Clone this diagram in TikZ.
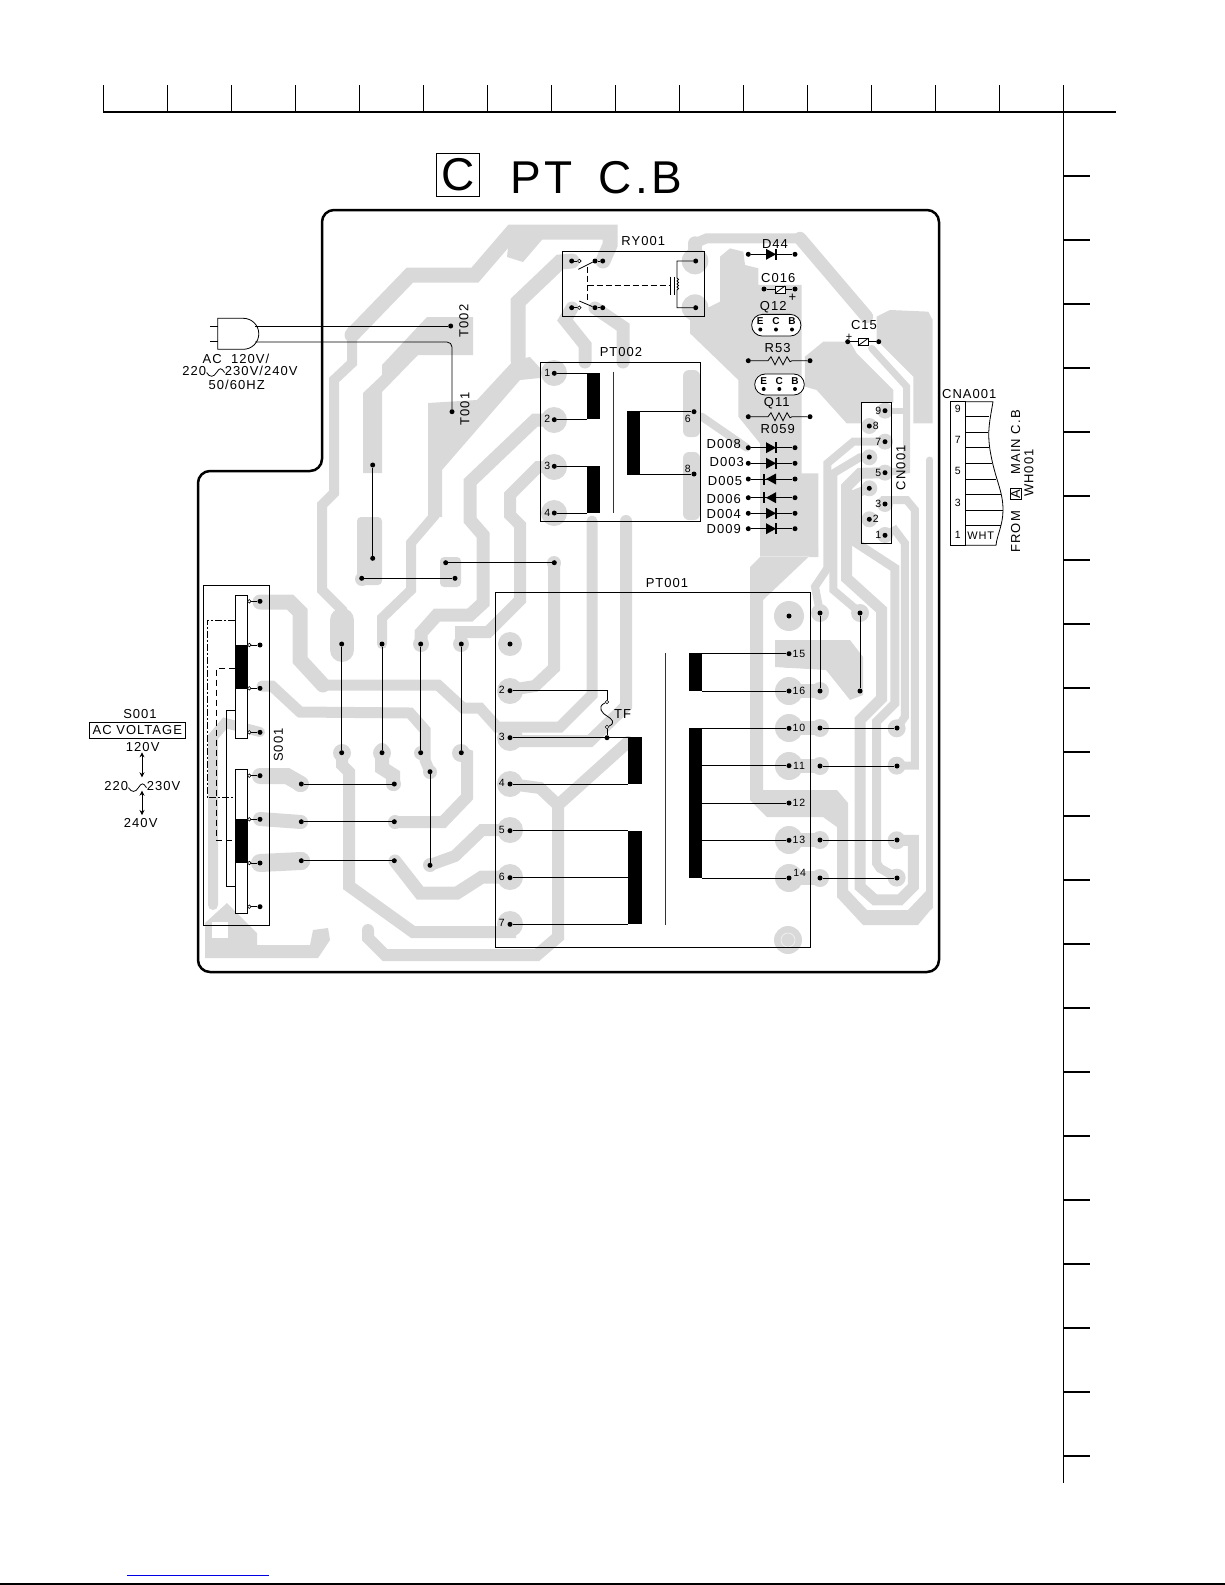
\documentclass[tikz,border=0pt]{standalone}
\usepackage{fontspec}
\setmainfont[LetterSpace=8]{Liberation Sans}
\usetikzlibrary{arrows.meta}
\definecolor{cu}{HTML}{D9D9D9}
\newcommand{\sinesign}{\tikz[x=1pt,y=1pt,baseline=0pt,line width=.8pt]\draw (0,3) .. controls (3,-2) and (7,-2) .. (10,3) .. controls (13,8) and (15,8) .. (18,3);}
\tikzset{
  trace/.style={draw=cu,line width=#1pt,line join=miter,line cap=round},
  foil/.style={fill=cu,draw=none},
  pad/.style={circle,fill=black,inner sep=0pt,minimum size=5pt},
  hole/.style={circle,draw=black,fill=white,line width=.6pt,inner sep=0pt,minimum size=3.6pt},
  lbl/.style={font=\fontsize{13}{13}\selectfont,inner sep=0pt},
  num/.style={font=\fontsize{10.5}{10.5}\selectfont,inner sep=0pt},
  wire/.style={line width=.8pt},
  part/.style={draw=black,line width=.8pt},
  coilblock/.style={fill=black}
}
\begin{document}
\begin{tikzpicture}[x=1pt,y=-1pt]
\useasboundingbox (0,0) rectangle (1225,1585);

% page scale
\draw[line width=2pt] (103,112) -- (1116,112);
\draw[line width=1pt] (1063,85) -- (1063,1483);
\foreach \k in {0,...,15} \draw[line width=1pt] (103.5+64*\k,85) -- (103.5+64*\k,112);
\foreach \k in {0,...,20} \draw[line width=1.6pt] (1063,176+64*\k) -- (1090,176+64*\k);
\draw[line width=1pt,blue!90!black] (127,1575) -- (269,1575);
\draw[line width=1.4pt] (0,1584) -- (1225,1584);

% copper, left part
\fill[foil] (363,473) -- (382,473) -- (382,392) -- (418,355) -- (473,355) -- (473,317) -- (427,317) -- (382,365) -- (382,375) -- (363,393) -- cycle;
\fill[foil,rounded corners=4pt] (357,517) rectangle (382,585);
\fill[foil,rounded corners=4pt] (440,557) rectangle (461,587);
\fill[foil] (428,403) -- (477,400) -- (514,360) -- (530,357) -- (540,368) -- (540,378) -- (520,380) -- (442,470) -- (442,517) -- (428,517) -- cycle;
\path[trace=10] (435,515) -- (411,543) -- (411,590) -- (382,618) -- (382,644);
\path[trace=15] (572,261) -- (560,262) -- (518,302) -- (518,360);
\path[trace=10] (342,644) -- (342,610) -- (322,590) -- (322,505) -- (334,493) -- (334,380) -- (352,363) -- (352,330);
\path[trace=15] (352,335) -- (410,275) -- (475,275) -- (512,232) -- (610,232) -- (610,245) -- (603,261);
\fill[foil] (507,257) -- (523,262) -- (547,234) -- (510,227) -- cycle;
\path[trace=24] (342,620) -- (342,650);
\path[trace=13] (554,420) -- (535,420) -- (470,482) -- (470,520) -- (483,535) -- (483,603) -- (470,615) -- (437,615) -- (421,633) -- (421,644);
\path[trace=12] (554,467) -- (538,467) -- (510,495) -- (510,515) -- (520,525) -- (520,600) -- (488,632) -- (461,632) -- (461,644);
\path[trace=12] (554,563) -- (554,668) -- (535,686) -- (510,690);
\path[trace=15] (260,602) -- (290,602) -- (300,612) -- (300,660) -- (323,685);
\path[trace=11] (323,685) -- (438,685) -- (463,708) -- (480,708) -- (497,727) -- (560,727) -- (592,695) -- (592,521);
\path[trace=12] (510,741) -- (590,741) -- (626,706) -- (626,521);
\path[trace=11] (262,686) -- (272,686) -- (300,712) -- (410,713) -- (425,730) -- (425,760) -- (430,772);
\path[trace=12] (342,753) -- (342,765) -- (349,772) -- (349,886) -- (413,932) -- (510,932) -- (510,924);
\path[trace=14] (382,750) -- (382,768) -- (393,775) -- (393,784);
\path[trace=16] (260,776) -- (287,776) -- (301,784);
\path[trace=14] (260,819) -- (301,822);
\path[trace=18] (260,863) -- (301,861);
\path[trace=12] (395,822) -- (443,822) -- (467,797) -- (467,755) -- (461,753);
\path[trace=12] (430,865) -- (455,856) -- (482,830) -- (510,830);
\path[trace=13] (395,861) -- (420,893) -- (457,893) -- (482,877) -- (510,877);
\path[trace=12] (510,784) -- (540,788) -- (558,805) -- (558,937) -- (537,955) -- (385,955) -- (368,938) -- (368,930);
\path[trace=12] (558,805) -- (628,742);
\path[trace=10] (260,732) -- (225,723) -- (213,737) -- (213,905);
\fill[foil] (205,923) -- (227,903) -- (257,933) -- (257,945) -- (310,945) -- (313,930) -- (328,928) -- (330,940) -- (318,958) -- (205,958) -- cycle;
\fill[white] (212,922) rectangle (228,938);
\path[trace=13] (572,308) -- (565,320) -- (585,345) -- (585,362);
\path[trace=13] (595,308) -- (623,327) -- (623,362);
\foreach \x/\y/\r in {554/373/13,554/420/13,554/467/13,554/513/13,510/644/12,510/691/13,510/738/13,510/784/13,510/830/13,510/877/13,510/924/13,342/753/9,382/753/9,421/644/8,461/644/8,421/753/7,461/753/9,300/784/8,301/861/9,394/784/7,395/822/7,395/861/6,430/772/7,430/865/7,362/579/7,554/563/7,788/940/14,789/616/15}
  \fill[foil] (\x,\y) circle (\r pt);
\draw[cu!30!white,line width=.6pt] (788,940) circle (7pt);

% copper, right part
\begin{scope}[shift={(680,210)},scale=.3333]
  \fill[foil] (120,140) -- (150,115) -- (190,125) -- (195,165) -- (235,175) -- (235,225) -- (365,225) -- (365,790) -- (415,790) -- (415,1040) -- (240,1040) -- (240,700) -- (175,620) -- (175,510) -- (30,370) -- (30,320) -- (120,275) -- cycle;
  \path[trace=14] (45,153) -- (45,100);
  \path[trace=10] (45,100) -- (80,85) -- (360,85);
  \path[trace=13] (360,85) -- (560,320);
  \fill[foil] (45,153) circle (40);
  \fill[foil] (45,293) circle (40);
  \path[trace=8] (65,620) -- (200,713);
  \fill[foil] (375,440) -- (430,395) -- (510,395) -- (530,430) -- (640,540) -- (640,578) -- (545,578) -- (545,640) -- (500,640) -- (410,540) -- (375,530) -- cycle;
  \fill[foil] (590,320) -- (630,300) -- (745,305) -- (758,330) -- (758,640) -- (700,640) -- (700,500) -- (600,400) -- (590,390) -- cycle;
  \path[trace=7] (575,415) -- (680,530) -- (680,780) -- (615,788);
  \path[trace=6] (615,602) -- (675,602);
  \foreach \x/\y in {615/602,615/695,568/648,615/788,568/742,568/835,615/882,568/928,615/975}
    \fill[foil] (\x,\y) circle (24);
\end{scope}
\begin{scope}[shift={(780,480)},scale=.3333]
  \path[trace=7] (450,-60) -- (450,1280);
  \path[trace=8] (120,398) -- (105,320) -- (142,265) -- (142,-50) -- (220,-115) -- (315,-115);
  \path[trace=8] (240,398) -- (160,330) -- (160,-20) -- (240,-68) -- (268,-68);
  \path[trace=11] (350,1081) -- (400,1081) -- (400,1220) -- (360,1260) -- (285,1260) -- (240,1220) -- (240,720) -- (305,655) -- (305,390) -- (200,295) -- (200,20) -- (240,-20) -- (315,-22);
  \path[trace=9] (350,1193) -- (300,1165) -- (290,1150) -- (290,725) -- (345,670) -- (345,265) -- (230,190) -- (230,40) -- (268,25);
  \path[trace=8] (350,745) -- (375,710) -- (375,190) -- (345,150) -- (315,165);
  \path[trace=8] (350,857) -- (405,857) -- (405,90) -- (380,60) -- (315,60) -- (315,72);
  \foreach \y in {745,857,1081,1193} \fill[foil] (350,\y) circle (27);
\end{scope}
\fill[foil] (750,567) -- (760,557) -- (818,557) -- (818,548) -- (763,600) -- (763,790) -- (837,790) -- (848,803) -- (848,890) -- (867,910) -- (908,910) -- (927,890) -- (933,907) -- (918,925) -- (863,925) -- (837,897) -- (837,827) -- (823,817) -- (767,817) -- (750,800) -- cycle;
\fill[foil] (775,640) -- (850,640) -- (863,657) -- (863,695) -- (850,700) -- (826,670) -- (775,667) -- cycle;
\foreach \y in {654,691,728,766,840,878} {
  \fill[foil] (789,\y) circle (14pt);
}
\foreach \y in {691,728,766,840,878} {
  \fill[foil] (820,\y) circle (9pt);
  \path[trace=14] (789,\y) -- (820,\y);
}
\fill[foil] (820,613) circle (9pt);
\fill[foil] (860,613) circle (9pt);

% board edge
\draw[line width=2.5pt,rounded corners=12pt] (322,210) -- (939,210) -- (939,972) -- (198,972) -- (198,471) -- (322,471) -- cycle;

% title
\node[draw,line width=.8pt,minimum width=43pt,minimum height=43pt,inner sep=0pt,font=\fontsize{46}{46}\selectfont] (titlec) at (458,175) {C};
\node[font=\fontsize{46}{46}\selectfont,inner sep=0pt,anchor=west] (titlept) at (510,178) {PT};
\node[font=\fontsize{46}{46}\selectfont,inner sep=0pt,anchor=west] (titlecb) at (598,178) {C.B};

% plug
\draw[part] (217.7,318.3) -- (243.3,318.3) arc (-90:90:15.5) -- (217.7,349.3) -- cycle;
\coordinate (pluga) at (255,326);
\coordinate (plugb) at (255,342);
\draw[part] (210,326) -- (217.7,326);
\draw[part] (210,341.7) -- (217.7,341.7);
\node[pad] (t002) at (450.7,326) {};
\node[pad] (t001) at (452,411.7) {};
\draw[wire] (pluga) -- (t002);
\draw[wire,rounded corners=5pt] (plugb) -- (452,342) -- (t001);
\node[lbl,rotate=90] (t002lbl) at (464,321) {T002};
\node[lbl,rotate=90] (t001lbl) at (465,409) {T001};
\node[lbl] (acline) at (236,358.5) {AC\ \ 120V/};
\node[lbl] (acvolts) at (240,372) {220\sinesign 230V/240V};
\node[lbl] (achz) at (236.7,385) {50/60HZ};

% jumpers
\foreach \n/\x in {1/341.7,2/382,3/420.7,4/461.3} {
  \node[pad] (ja\n) at (\x,644) {};
  \node[pad] (jb\n) at (\x,752.7) {};
  \draw[wire] (ja\n) -- (jb\n);
}
\foreach \n/\y in {1/784,2/821.7,3/860.7} {
  \node[pad] (jc\n) at (301.3,\y) {};
  \node[pad] (jd\n) at (394.3,\y) {};
  \draw[wire] (jc\n) -- (jd\n);
}
\node[pad] (je) at (430,771.7) {};
\node[pad] (jf) at (430,865.3) {};
\draw[wire] (je) -- (jf);
\node[pad] (jg) at (361.7,578.3) {};
\node[pad] (jh) at (455,578.3) {};
\draw[wire] (jg) -- (jh);
\node[pad] (ji) at (445.7,562.7) {};
\node[pad] (jj) at (554.3,562.7) {};
\draw[wire] (ji) -- (jj);
\node[pad] (jk) at (372.7,465) {};
\node[pad] (jl) at (372.7,558.3) {};
\draw[wire] (jk) -- (jl);

% S001
\draw[part] (203.7,585.7) rectangle (269.3,925.7);
\node[lbl,rotate=90] (s001lbl) at (278.3,745) {S001};
\draw[part,fill=white] (235.3,595) rectangle (247.7,738.3);
\draw[part,fill=white] (235.3,769.3) rectangle (247.7,913);
\fill (235.3,644.7) rectangle (247.7,688.7);
\fill (235.3,819) rectangle (247.7,863.3);
\foreach \n/\y in {1/601.3,2/645,3/688.3,4/732.3,5/775.7,6/819.3,7/863,8/906.7} {
  \node[hole] (sh\n) at (249.3,\y) {};
  \node[pad] (sp\n) at (260,\y) {};
  \draw[wire] (sh\n) -- (sp\n);
}
\draw[wire,dash pattern=on 7pt off 2pt on 2pt off 2pt] (235.3,620) -- (207,620) -- (207,797.3) -- (235.3,797.3);
\draw[wire,dash pattern=on 6pt off 4pt] (235.3,668.3) -- (216.7,668.3) -- (216.7,840) -- (235.3,840);
\draw[wire] (235.3,710.7) -- (226,710.7) -- (226,886.7) -- (235.3,886.7);

% voltage selector text
\node[lbl] (s001name) at (140,714) {S001};
\node[lbl,draw,line width=.8pt,minimum width=96.7pt,minimum height=15.6pt] (acbox) at (137.3,730.5) {AC VOLTAGE};
\node[lbl] (v120) at (142.7,746.7) {120V};
\node[lbl] (v220) at (142.3,787.3) {220\sinesign 230V};
\node[lbl] (v240) at (140.7,822.7) {240V};
\coordinate (arra) at (142,752.3);
\coordinate (arrb) at (142,777.3);
\coordinate (arrc) at (142,790.7);
\coordinate (arrd) at (142,815);
\draw[wire,{Stealth[length=5pt,width=5pt]}-{Stealth[length=5pt,width=5pt]}] (arra) -- (arrb);
\draw[wire,{Stealth[length=5pt,width=5pt]}-{Stealth[length=5pt,width=5pt]}] (arrc) -- (arrd);

% PT001
\draw[part] (495.3,592) rectangle (810.7,947.7);
\node[lbl] (pt001lbl) at (667,583) {PT001};
\draw[line width=1pt,black!80] (665.7,653) -- (665.7,925);
\fill[coilblock] (628.3,737.3) rectangle (641.7,784.3);
\fill[coilblock] (628.3,831) rectangle (641.7,924.3);
\fill[coilblock] (688.7,653.3) rectangle (702,691);
\fill[coilblock] (688.7,728.3) rectangle (702,877.7);
\node[pad] (n1) at (510,644) {};
\node[pad] (n9) at (789,616) {};
\foreach \n/\y in {2/690.7,3/737.7,4/784,5/830.7,6/877.7,7/924.3} {
  \node[pad] (a\n) at (510,\y) {};
  \node[num] (a\n lbl) at (501.7,\y-1) {\n};
}
\foreach \n/\y in {3/737.7,4/784,5/830.7,6/877.7,7/924.3} \draw[wire] (a\n) -- (628.3,\y);
\foreach \n/\y in {15/653.7,16/691,10/728.3,11/765.7,12/803,13/840.3,14/878} {
  \node[pad] (b\n) at (789,\y) {};
  \draw[wire] (b\n) -- (702,\y);
}
\foreach \n/\y in {15/653.7,16/691,10/728.3,11/765.7,12/803,13/840.3} \node[num] (b\n lbl) at (799,\y) {\n};
\node[num] (b14lbl) at (799.7,873) {14};
\node[pad] (tfa) at (607,737.7) {};
\node[hole] (tfb) at (607,727) {};
\node[hole] (tfc) at (607,702) {};
\draw[wire] (tfa) -- (tfb);
\draw[wire] (a2) -- (607,690.7) -- (tfc);
\draw[wire] (tfc) .. controls (596,707) and (603,714) .. (607,716) .. controls (612,719) and (616,723) .. (tfb);
\node[lbl] (tflbl) at (622.7,714) {TF};
\foreach \n/\x/\y in {p/820/613,q/820/691,r/820/728,s/897/728,t/820/766,u/897/766,v/820/840,w/897/840,x/820/878,y/897/878,z/860/613,zz/860/691}
  \node[pad] (c\n) at (\x,\y) {};
\draw[wire] (cp) -- (cq);
\draw[wire] (cr) -- (cs);
\draw[wire] (ct) -- (cu);
\draw[wire] (cv) -- (cw);
\draw[wire] (cx) -- (cy);
\draw[wire] (cz) -- (czz);

% PT002
\fill[foil,rounded corners=6pt] (683,370) -- (700,370) -- (700,437) -- (683,437) -- cycle;
\fill[foil,rounded corners=6pt] (683,452) -- (700,452) -- (700,520) -- (683,520) -- cycle;
\draw[part] (540,362.7) rectangle (700.3,521.7);
\node[lbl] (pt002lbl) at (621,351.7) {PT002};
\draw[line width=1pt,black!80] (613.3,371.7) -- (613.3,513.3);
\fill[coilblock] (586.7,373.3) rectangle (600,419);
\fill[coilblock] (586.7,465.7) rectangle (600,513.3);
\fill[coilblock] (627,411) rectangle (640.3,475.3);
\foreach \n/\y in {1/373.3,2/419.7,3/466.3,4/513} {
  \node[pad] (d\n) at (554.3,\y) {};
  \node[num] (d\n lbl) at (547.3,\y-.5) {\n};
  \draw[wire] (d\n) -- (586.7,\y);
}
\node[pad] (d6) at (694,411.7) {};
\node[pad] (d8) at (694,474) {};
\draw[wire] (d6) -- (640.3,411.7);
\draw[wire] (d8) -- (640.3,474);
\node[num] (d6lbl) at (687.7,418.5) {6};
\node[num] (d8lbl) at (687.7,468.5) {8};

% RY001
\draw[part] (562.7,251.7) rectangle (704.7,316.3);
\node[lbl] (ry001lbl) at (643.3,241) {RY001};
\foreach \n/\y in {a/261,b/307.7} {
  \node[pad] (r\n1) at (571.7,\y) {};
  \node[hole] (r\n2) at (579.3,\y) {};
  \node[pad] (r\n3) at (595,\y) {};
  \node[pad] (r\n4) at (602.7,\y) {};
  \node[pad] (r\n5) at (695.7,\y) {};
  \draw[wire] (r\n1) -- (r\n2);
  \draw[wire] (r\n3) -- (r\n4);
}
\draw[wire] (578.3,269.3) -- (ra3);
\draw[wire] (579.3,301) -- (rb3);
\draw[wire,dash pattern=on 6pt off 3pt] (587.7,266.7) -- (587.7,301.7);
\draw[wire,dash pattern=on 6pt off 3pt] (587.7,285) -- (670,285);
\draw[wire] (670.7,276.7) -- (670.7,295);
\draw[wire] (674.3,277) -- (674.3,295);
\draw[wire] (ra5) -- (677,261) -- (677,278) arc (-90:90:1.5) arc (-90:90:1.5) arc (-90:90:1.5) arc (-90:90:1.5) -- (677,307.7) -- (rb5);

% small parts
\foreach \n/\y/\s in {d44/254.3/1,d008/447.7/1,d003/463.3/1,d005/479/-1,d006/497.7/-1,d004/513.3/1,d009/528.7/1} {
  \node[pad] (\n a) at (748.3,\y) {};
  \node[pad] (\n b) at (795,\y) {};
  \draw[wire] (\n a) -- (\n b);
  \fill (771-5*\s,\y-5.5) -- (771+5*\s,\y) -- (771-5*\s,\y+5.5) -- cycle;
  \fill (771+5*\s-1,\y-5.5) rectangle (771+5*\s+2*\s-1,\y+5.5);
}
\node[lbl] (d44lbl) at (775,244) {D44};
\node[lbl] (d008lbl) at (723.7,443.7) {D008};
\node[lbl] (d003lbl) at (726.7,462.3) {D003};
\node[lbl] (d005lbl) at (725,480.7) {D005};
\node[lbl] (d006lbl) at (723.7,499.3) {D006};
\node[lbl] (d004lbl) at (723.7,513.7) {D004};
\node[lbl] (d009lbl) at (723.7,529) {D009};

\node[pad] (c16a) at (764,289) {};
\node[pad] (c16b) at (795,289) {};
\draw[wire] (c16a) -- (c16b);
\draw[part,fill=white] (775,286) rectangle (785,293.3);
\draw[wire] (775,293.3) -- (785,286);
\node[lbl] (c16lbl) at (778.3,278.5) {C016};
\node[lbl] (c16plus) at (792.3,298) {+};

\node[part,fill=white,minimum width=49.3pt,minimum height=21.7pt,rounded corners=10.8pt,inner sep=0pt] (q12) at (776.3,325.2) {};
\node[lbl] (q12lbl) at (773.3,306.7) {Q12};
\node[part,fill=white,minimum width=49.6pt,minimum height=21pt,rounded corners=10.5pt,inner sep=0pt] (q11) at (779.5,384.5) {};
\node[lbl] (q11lbl) at (776.7,403.3) {Q11};
\foreach \n/\x/\t in {e/760.3/E,c/776/C,b/792/B} {
  \node[num,font=\fontsize{10}{10}\bfseries\selectfont] (qa\n) at (\x,321.5) {\t};
  \node[pad,minimum size=4pt] (qb\n) at (\x,329.5) {};
}
\foreach \n/\x/\t in {e/763.7/E,c/779.3/C,b/795/B} {
  \node[num,font=\fontsize{10}{10}\bfseries\selectfont] (qc\n) at (\x,381) {\t};
  \node[pad,minimum size=4pt] (qd\n) at (\x,389) {};
}
\foreach \n/\y/\t/\ly in {ra/360.7/R53/348.3,rb/416.7/R059/429.3} {
  \node[pad] (\n l) at (748.3,\y) {};
  \node[pad] (\n r) at (810,\y) {};
  \draw[wire] (\n l) -- (768,\y) -- (771,\y-4) -- (775,\y+4) -- (779,\y-4) -- (783,\y+4) -- (787,\y-4) -- (790,\y+1) -- (792,\y) -- (\n r);
  \node[lbl] (\n lbl) at (777.7,\ly) {\t};
}
\node[pad] (c15a) at (847.7,341.7) {};
\node[pad] (c15b) at (878.7,341.7) {};
\draw[wire] (c15a) -- (c15b);
\draw[part,fill=white] (858,338.3) rectangle (868.3,345.7);
\draw[wire] (858,345.7) -- (868.3,338.3);
\node[lbl] (c15lbl) at (864,325) {C15};
\node[lbl,font=\fontsize{11}{11}\selectfont] (c15plus) at (849,337) {+};

% CN001
\draw[part] (861.7,402.7) rectangle (891.3,543.3);
\node[lbl,rotate=90] (cn001lbl) at (901,467.7) {CN001};
\foreach \n/\t/\y in {9/9/410.7,7/7/441.7,5/5/472.7,3/3/504,1/1/535.3} {
  \node[pad] (cn\n) at (885,\y) {};
  \node[num] (cn\n lbl) at (878.3,\y) {\t};
}
\foreach \n/\y in {8/426,6/457,4/488.3,2/519.3} \node[pad] (cn\n) at (869.3,\y) {};
\node[num] (cn8lbl) at (875.8,426) {8};
\node[num] (cn2lbl) at (875.8,519.3) {2};

% CNA001
\node[lbl] (cna001lbl) at (969.3,394) {CNA001};
\draw[part] (950,401.7) rectangle (965.3,545.3);
\draw[part] (965.3,401.7) -- (993,401.7) .. controls (990,420) and (987,430) .. (990,450) .. controls (995,480) and (1003,490) .. (1003,510) .. controls (1003,525) and (997,535) .. (996,545.3) -- (965.3,545.3);
\foreach \y/\x in {416.7/989,432.3/987.5,447.7/989,463.3/992,479/996,494.3/1000.5,510/1003,525.7/1001}
  \draw[wire] (965.3,\y) -- (\x,\y);
\foreach \n/\y in {9/409.3,7/440,5/471.3,3/502.7,1/535} \node[num] (cna\n) at (957.7,\y) {\n};
\node[lbl,font=\fontsize{11}{11}\selectfont] (wht) at (980.7,535.7) {WHT};
\node[lbl,rotate=90] (fromlbl) at (1015.7,531.7) {FROM};
\node[lbl,rotate=90,draw,line width=.8pt,minimum width=11pt,minimum height=11pt] (alpha) at (1015.7,494) {A};
\node[lbl,rotate=90] (mainlbl) at (1015.7,442.3) {MAIN C.B};
\node[lbl,rotate=90] (wh001) at (1029,473) {WH001};

\end{tikzpicture}
\end{document}
